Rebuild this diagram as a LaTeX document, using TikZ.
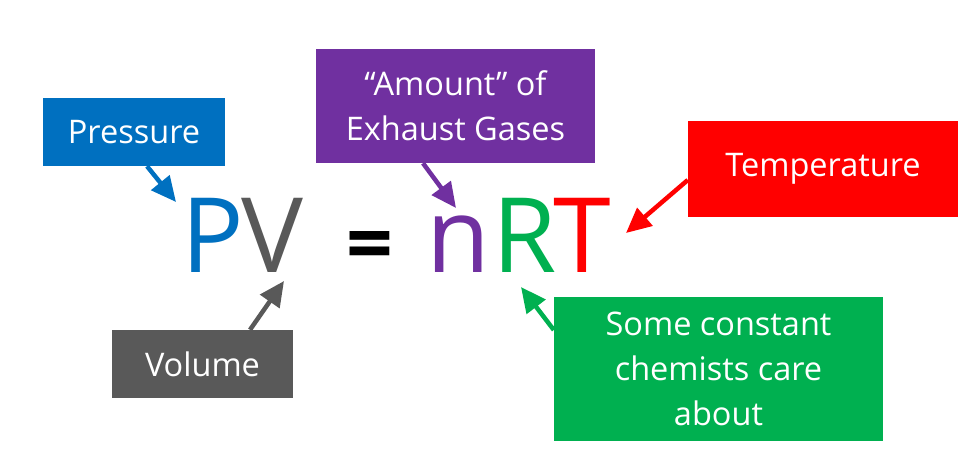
\documentclass[tikz,border=0pt]{standalone}
\usepackage{fontspec}
\setmainfont{Open Sans}
\usetikzlibrary{arrows.meta,calc}
\definecolor{cblue}{HTML}{0070C0}
\definecolor{cgray}{HTML}{595959}
\definecolor{cpurple}{HTML}{7030A0}
\definecolor{cred}{HTML}{FF0000}
\definecolor{cgreen}{HTML}{00B050}
\tikzset{
  lbl/.style={fill=#1, text=white, inner sep=0pt, align=center,
    font=\fontsize{32.5}{45}\selectfont},
  eq/.style={text=#1, inner sep=0pt, anchor=base,
    font=\fontsize{104}{104}\selectfont},
  ptr/.style={draw=#1, line width=4.5pt,
    -{Triangle[length=25pt,width=23pt]}}
}
\begin{document}
\begin{tikzpicture}[x=1pt,y=-1pt]
\useasboundingbox (0,0) rectangle (976,461);
% equation letters
\node[eq=cblue]   (P)  at (213,272) {P};
\node[eq=cgray]   (V)  at (272,272) {V};
\node[eq=black, font=\fontsize{82}{82}\selectfont\bfseries] (eqs) at (370,272) {=};
\node[eq=cpurple] (n)  at (458,272) {n};
\node[eq=cgreen]  (R)  at (525,272) {R};
\node[eq=cred]    (T)  at (582,272) {T};
% label boxes
\node[lbl=cblue, minimum width=182pt, minimum height=68pt] (pres) at (134,132) {Pressure};
\node[lbl=cgray, minimum width=181pt, minimum height=68pt] (vol) at (202.5,364) {Volume};
\node[lbl=cpurple, minimum width=279pt, minimum height=114pt] (amt) at (455.5,106) {“Amount” of\\Exhaust Gases};
\node[lbl=cred, minimum width=270pt, minimum height=96pt] (temp) at (823,169) {Temperature};
\node[lbl=cgreen, minimum width=329pt, minimum height=144pt] (const) at (718.5,369) {Some constant\\chemists care\\about};
% arrow tips
\coordinate (tP) at (176,202);
\coordinate (tV) at (284,281);
\coordinate (tn) at (456,208);
\coordinate (tT) at (626,233);
\coordinate (tR) at (521,287);
% arrows
\draw[ptr=cblue]   ($(pres.south)+(13,0)$) -- (tP);
\draw[ptr=cgray]   ($(vol.north)+(47.5,0)$) -- (tV);
\draw[ptr=cpurple] ($(amt.south)+(-32.5,0)$) -- (tn);
\draw[ptr=cred]    ($(temp.west)+(0,11)$) -- (tT);
\draw[ptr=cgreen]  ($(const.west)+(0,-39)$) -- (tR);
\end{tikzpicture}
\end{document}
